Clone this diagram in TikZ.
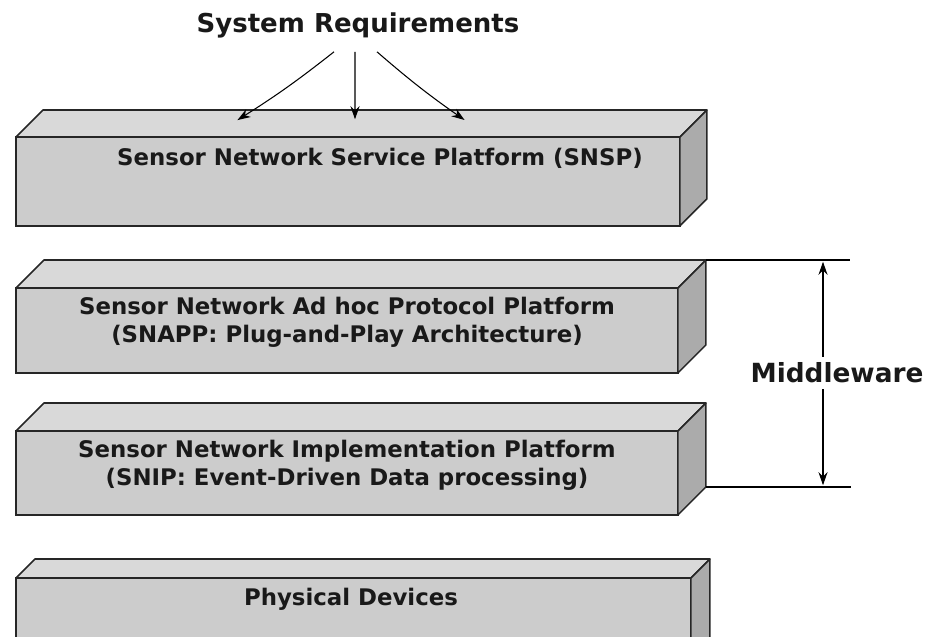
\documentclass[tikz,border=0pt]{standalone}
\usepackage{fontspec}
\setmainfont{DejaVu Sans}
\usetikzlibrary{arrows.meta,positioning}

\newcommand{\slab}[2]{%
  \filldraw[top side] (#1.north west) -- ++(#2,-#2) -- ([shift={(#2,-#2)}]#1.north east) -- (#1.north east) -- cycle;
  \filldraw[right side] (#1.north east) -- ([shift={(#2,-#2)}]#1.north east) -- ([shift={(#2,-#2)}]#1.south east) -- (#1.south east) -- cycle;
}

\begin{document}
\begin{tikzpicture}[x=0.02cm,y=-0.02cm,>={Stealth[length=2.6mm,width=1.8mm]},shorten >=1pt,
  font=\bfseries\fontsize{13}{15.5}\selectfont,
  platform/.style={draw=black!85,fill=gray!40,line width=0.9pt,outer sep=0pt,inner sep=0pt,anchor=north west},
  top side/.style={draw=black!85,fill=gray!30,line width=0.9pt,line join=round},
  right side/.style={draw=black!85,fill=gray!66,line width=0.9pt,line join=round},
  tag/.style={anchor=base,align=center,text=black!90}]
  \path[use as bounding box] (0,0) rectangle (936,636);
  \clip (0,0) rectangle (936,636);

  \node[platform,minimum width=13.28cm,minimum height=1.78cm] (snsp) at (16,137) {};
  \slab{snsp}{27}
  \node[platform,minimum width=13.24cm,minimum height=1.70cm] (snapp) at (16,288) {};
  \slab{snapp}{28}
  \node[platform,minimum width=13.24cm,minimum height=1.68cm] (snip) at (16,431) {};
  \slab{snip}{28}
  \node[platform,minimum width=13.50cm,minimum height=1.80cm] (phys) at (16,578) {};
  \slab{phys}{19}

  \node[tag,font=\bfseries\fontsize{14.8}{17}\selectfont] (req) at (358,32) {System Requirements};
  \node[tag] (snsp text) at (380,165) {Sensor Network Service Platform (SNSP)};
  \node[tag] (snapp text) at (347,342) {Sensor Network Ad hoc Protocol Platform\\(SNAPP: Plug-and-Play Architecture)};
  \node[tag] (snip text) at (347,485) {Sensor Network Implementation Platform\\(SNIP: Event-Driven Data processing)};
  \node[tag] (phys text) at (351,605) {Physical Devices};

  \coordinate (t1) at (236,121);
  \coordinate (t2) at (355,121);
  \coordinate (t3) at (466,121);
  \path[->,line width=0.6pt]
    ([xshift=-0.48cm,yshift=-0.16cm]req.south) edge[bend left=3] (t1)
    ([xshift=-0.06cm,yshift=-0.16cm]req.south) edge (t2)
    ([xshift=0.38cm,yshift=-0.16cm]req.south) edge[bend right=3] (t3);

  \draw[line width=0.6pt] ([shift={(28,-28)}]snapp.north east) -- ++(146,0) coordinate (mw top);
  \draw[line width=0.6pt] ([shift={(28,-28)}]snip.south east) -- ++(147,0) coordinate (mw bot);
  \node[tag,anchor=center,font=\bfseries\fontsize{15}{18}\selectfont] (mw) at (837,373) {Middleware};
  \coordinate (mw x) at (823,0);
  \draw[->,line width=0.6pt] (mw.north -| mw x) -- (mw x |- mw top);
  \draw[->,line width=0.6pt] (mw.south -| mw x) -- (mw x |- mw bot);
\end{tikzpicture}
\end{document}
